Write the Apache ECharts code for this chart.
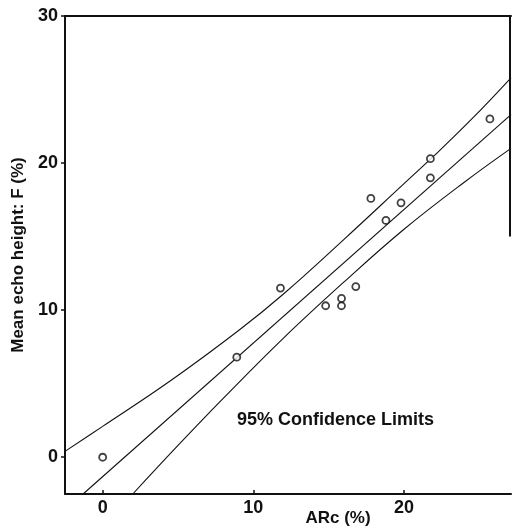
<!DOCTYPE html>
<html>
<head>
<meta charset="utf-8">
<script src="https://cdn.jsdelivr.net/npm/echarts@6/dist/echarts.min.js"></script>
<style>
  html, body { margin: 0; padding: 0; background: #fff; }
  #chart { width: 513px; height: 529px; }
</style>
</head>
<body>
<div id="chart"></div>
<script>
// observations: ARc (%) vs mean echo height F (%)
const obsX = [0, 8.9, 11.8, 14.8, 15.85, 15.85, 16.8, 17.8, 18.8, 19.8, 21.75, 21.75, 25.7];
const obsY = [0, 6.8, 11.5, 10.3, 10.3, 10.8, 11.6, 17.6, 16.1, 17.3, 20.3, 19.0, 23.0];

// regression line (read at its two ends)
const fitX = [-1.3, 27.1];
const fitY = [-2.5, 23.3];

// 95% confidence limits
const upperX = [-2.5, 0, 4.5, 9, 12, 16, 20, 22, 24.5, 27.1];
const upperY = [0.4, 2.1, 5.2, 8.6, 11.1, 14.8, 18.6, 20.5, 23.0, 25.8];
const lowerX = [2.0, 5, 8, 12, 16, 20, 24, 27.1];
const lowerY = [-2.5, 0.8, 4.0, 8.1, 11.9, 15.5, 18.7, 21.0];

const xTicks = [0, 10, 20];
const yTicks = [0, 10, 20, 30];

const zip = (a, b) => a.map((v, i) => [v, b[i]]);

const chart = echarts.init(document.getElementById('chart'));
const font = 'Liberation Sans, Arial, sans-serif';
const ink = '#111';

const curve = (name, data) => ({
  name, type: 'line', data, smooth: 0.4, symbol: 'none',
  lineStyle: { color: ink, width: 1.1 }, silent: true, z: 2
});

chart.setOption({
  animation: false,
  backgroundColor: '#fff',
  grid: { left: 65, right: 2, top: 16, bottom: 35, outerBoundsMode: 'none', containLabel: false },
  xAxis: [{
    type: 'value', min: -2.5, max: 27.1,
    axisLine: { onZero: false, lineStyle: { color: ink, width: 2 } },
    axisTick: { inside: true, length: 4, customValues: xTicks, lineStyle: { color: ink, width: 1.5 } },
    axisLabel: { customValues: xTicks, color: ink, fontFamily: font, fontSize: 18, fontWeight: 'bold', margin: 5 },
    splitLine: { show: false }
  }, {
    type: 'value', position: 'top', min: -2.5, max: 27.1,
    axisLine: { show: true, onZero: false, lineStyle: { color: ink, width: 2 } },
    axisTick: { show: false }, axisLabel: { show: false }, splitLine: { show: false }
  }],
  yAxis: {
    type: 'value', min: -2.5, max: 30,
    axisLine: { show: true, onZero: false, lineStyle: { color: ink, width: 2 } },
    axisTick: { show: true, length: 4, customValues: yTicks, lineStyle: { color: ink, width: 1.5 } },
    axisLabel: { customValues: yTicks, color: ink, fontFamily: font, fontSize: 18, fontWeight: 'bold', margin: 7 },
    splitLine: { show: false },
    name: 'Mean echo height: F (%)', nameLocation: 'middle', nameGap: 36,
    nameTextStyle: { color: ink, fontFamily: font, fontSize: 17, fontWeight: 'bold' }
  },
  series: [
    curve('upper', zip(upperX, upperY)),
    curve('fit', zip(fitX, fitY)),
    curve('lower', zip(lowerX, lowerY)),
    {
      name: 'obs', type: 'scatter', data: zip(obsX, obsY),
      symbol: 'circle', symbolSize: 7,
      itemStyle: { color: '#fff', borderColor: ink, borderWidth: 1.8 }, z: 3
    }
  ]
});

// partial right border as in the scan, plus the x-axis title and note
const pTop = chart.convertToPixel({ xAxisIndex: 0, yAxisIndex: 0 }, [27.1, 30]);
const pMid = chart.convertToPixel({ xAxisIndex: 0, yAxisIndex: 0 }, [27.1, 15]);
chart.setOption({
  graphic: [{
    type: 'text', left: 237, top: 411,
    style: { text: '95% Confidence Limits', fill: ink, font: 'bold 18px ' + font }
  }, {
    type: 'text', x: 338, y: 510,
    style: { text: 'ARc (%)', fill: ink, font: 'bold 17px ' + font, textAlign: 'center', textVerticalAlign: 'top' }
  }, {
    type: 'line', shape: { x1: pTop[0] - 1, y1: pTop[1], x2: pTop[0] - 1, y2: pMid[1] },
    style: { stroke: ink, lineWidth: 2 }
  }]
});
</script>
</body>
</html>
